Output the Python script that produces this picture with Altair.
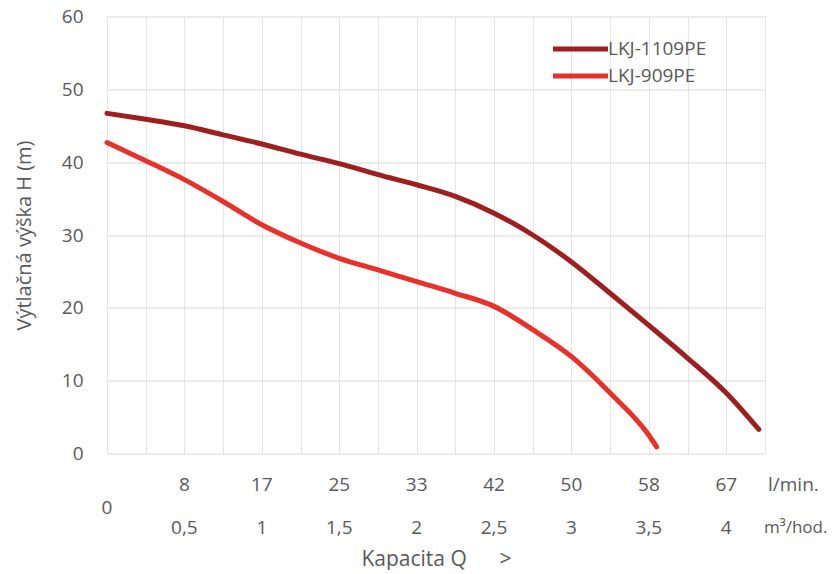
import altair as alt
import pandas as pd

# --- data (Q in m³/hod., H in m) ---
series_names = ["LKJ-1109PE", "LKJ-909PE"]
series_colors = ["#9E1F1F", "#E8312B"]

q_1109 = [0, 0.25, 0.5, 0.75, 1.0, 1.25, 1.5, 1.75, 2.0, 2.25, 2.5, 2.75, 3.0, 3.25, 3.5, 3.75, 4.0, 4.21]
h_1109 = [46.7, 45.9, 45.0, 43.75, 42.5, 41.1, 39.8, 38.3, 36.9, 35.3, 33.0, 30.0, 26.3, 22.0, 17.6, 13.1, 8.3, 3.3]

q_909 = [0, 0.25, 0.5, 0.75, 1.0, 1.25, 1.5, 1.75, 2.0, 2.25, 2.5, 2.75, 3.0, 3.25, 3.5, 3.55]
h_909 = [42.7, 40.2, 37.6, 34.6, 31.4, 28.9, 26.8, 25.2, 23.6, 22.0, 20.2, 17.0, 13.3, 8.3, 2.5, 0.9]

tick_q = [0.5, 1.0, 1.5, 2.0, 2.5, 3.0, 3.5, 4.0]
tick_lmin = ["8", "17", "25", "33", "42", "50", "58", "67"]
tick_m3 = ["0,5", "1", "1,5", "2", "2,5", "3", "3,5", "4"]
zero_label = ["0"]
unit_labels = ["l/min.", "m³/hod."]
x_title = "Kapacita Q\u00a0\u00a0\u00a0\u00a0\u00a0\u00a0>\u00a0\u00a0\u00a0"
y_title = "Výtlačná výška H (m)"
x_max = 4.25
y_ticks = [0, 10, 20, 30, 40, 50, 60]

FONT = "Open Sans"
TXT = "#595959"
FS = 19

df = pd.concat([
    pd.DataFrame({"q": q_1109, "h": h_1109, "series": series_names[0]}),
    pd.DataFrame({"q": q_909, "h": h_909, "series": series_names[1]}),
])
df_ticks = pd.DataFrame({"q": tick_q, "lmin": tick_lmin, "m3": tick_m3})
df_zero = pd.DataFrame({"q": [0], "t": zero_label})
df_u1 = pd.DataFrame({"q": [x_max], "t": [unit_labels[0]]})
df_u2 = pd.DataFrame({"q": [x_max], "t": [unit_labels[1]]})

grid_x = [i * 0.25 for i in range(18)]

x_axis = alt.Axis(values=grid_x, labels=False, ticks=False, domain=False, grid=True,
                  gridColor="#e4e4e4", gridWidth=1,
                  title=x_title, titleFont=FONT, titleFontSize=21,
                  titleFontWeight="normal", titleColor=TXT, titlePadding=95)
x_scale = alt.Scale(domain=[0, x_max], nice=False, zero=True)

def xenc():
    return alt.X("q:Q", scale=x_scale, axis=x_axis)

lines = alt.Chart(df).mark_line(interpolate="monotone", strokeWidth=5, strokeCap="round").encode(
    x=xenc(),
    y=alt.Y("h:Q", scale=alt.Scale(domain=[0, 60], nice=False),
            axis=alt.Axis(values=y_ticks, ticks=False, domain=False, grid=True,
                          gridColor="#d9d9d9", gridWidth=1,
                          labelFont=FONT, labelFontSize=FS, labelColor=TXT, labelPadding=24,
                          title=y_title, titleFont=FONT, titleFontSize=20,
                          titleFontWeight="normal", titleColor=TXT, titlePadding=27)),
    color=alt.Color("series:N", scale=alt.Scale(domain=series_names, range=series_colors),
                    legend=alt.Legend(title=None, orient="none", legendX=460, legendY=19,
                                      padding=0, symbolType="M-2.5,0L2.5,0", symbolSize=484,
                                      symbolStrokeWidth=5, labelFont=FONT, labelFontSize=FS,
                                      labelColor=TXT, labelOffset=14, rowPadding=3)),
)

def txt(data, field, yv, align="center", dx=0, fs=FS):
    return alt.Chart(data).mark_text(font=FONT, fontSize=fs, color=TXT, baseline="middle",
                                     align=align, dx=dx).encode(
        x=xenc(), y=alt.value(yv), text=f"{field}:N")

row1 = txt(df_ticks, "lmin", 468)
row2 = txt(df_ticks, "m3", 511.5)
zero = txt(df_zero, "t", 491.5)
u1 = txt(df_u1, "t", 468, align="left", dx=3)
u2 = txt(df_u2, "t", 511.5, align="left", dx=-1, fs=17)

chart = alt.layer(lines, row1, row2, zero, u1, u2).properties(
    width=658, height=437,
    autosize=alt.AutoSizeParams(type="none"),
    padding={"left": 99, "top": 8.5, "right": 64, "bottom": 116},
    background="white",
).configure_view(stroke=None)

chart.save("out.html", embed_options={"renderer": "svg", "actions": False})
